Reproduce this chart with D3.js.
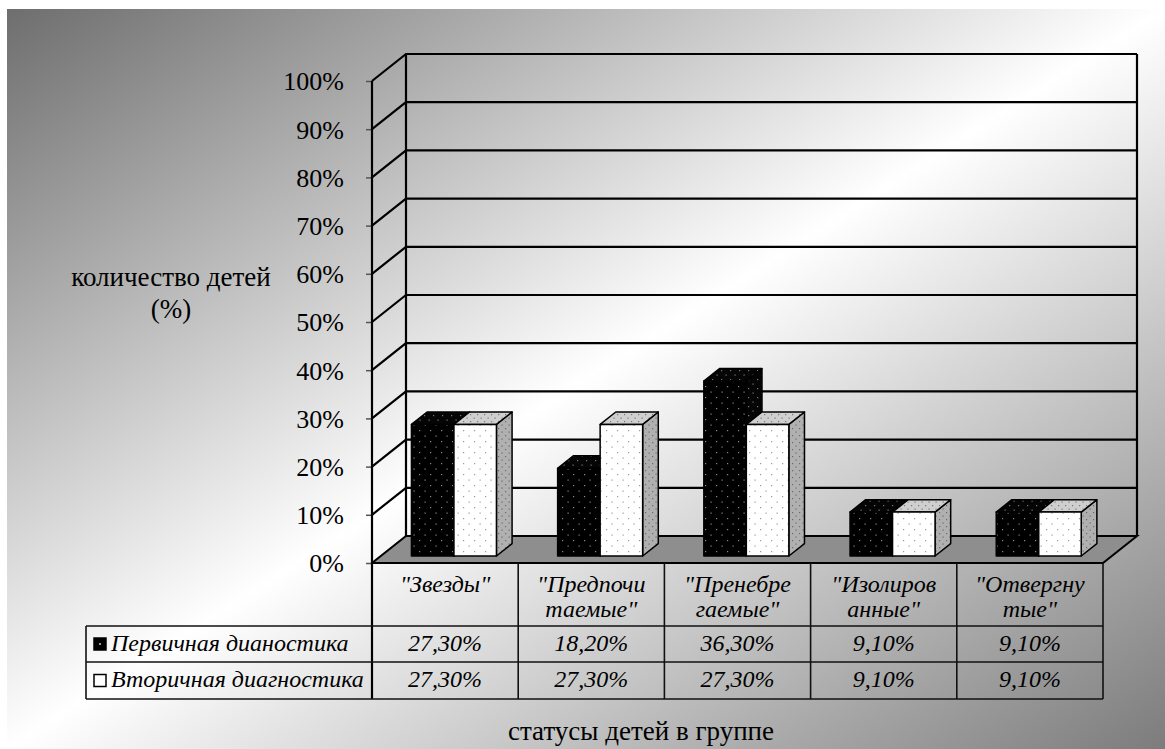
<!DOCTYPE html>
<html>
<head>
<meta charset="utf-8">
<script src="https://cdn.jsdelivr.net/npm/d3@7"></script>
<style>
  body { margin: 0; background: #fff; }
</style>
</head>
<body>
<svg id="chart"></svg>
<script>
// data
const categories = ['Звезды', 'Предпочитаемые', 'Пренебрегаемые', 'Изолированные', 'Отвергнутые'];
const categoryLines = [['"Звезды"'], ['"Предпочи', 'таемые"'], ['"Пренебре', 'гаемые"'], ['"Изолиров', 'анные"'], ['"Отвергну', 'тые"']];
const seriesNames = ['Первичная дианостика', 'Вторичная диагностика'];
const primaryValues = [27.3, 18.2, 36.3, 9.1, 9.1];
const secondaryValues = [27.3, 27.3, 27.3, 9.1, 9.1];
const yTicks = [0, 10, 20, 30, 40, 50, 60, 70, 80, 90, 100];
const yTitle = ['количество детей', '(%)'];
const xTitle = 'статусы детей в группе';

const W = 1165, H = 749;
const FONT = '"Liberation Serif", "Times New Roman", serif';
const svg = d3.select('#chart').attr('width', W).attr('height', H);

// plot geometry (front plane + depth offset)
const plotLeft = 372, plotRight = 1103, plotTop = 81, plotBottom = 563;
const depthX = 34, depthY = -27;
const barFront = 0.26, barBack = 0.72;
const barHalf = 42.5;

const x = d3.scaleBand().domain(categories).range([plotLeft, plotRight]).paddingInner(0).paddingOuter(0);
const y = d3.scaleLinear().domain([0, 100]).range([plotBottom, plotTop]);
const p = (px, v, d) => [px + depthX * d, y(v) + depthY * d];

const defs = svg.append('defs');
const bg = defs.append('linearGradient').attr('id', 'bg')
    .attr('x1', 0).attr('y1', 0).attr('x2', 1).attr('y2', 1);
bg.append('stop').attr('offset', 0).attr('stop-color', '#6e6e6e');
bg.append('stop').attr('offset', 0.5).attr('stop-color', '#ffffff');
bg.append('stop').attr('offset', 1).attr('stop-color', '#7c7c7c');

function dots(id, base, dot, step) {
    const pat = defs.append('pattern').attr('id', id)
        .attr('patternUnits', 'userSpaceOnUse').attr('width', step).attr('height', step);
    pat.append('rect').attr('width', step).attr('height', step).attr('fill', base);
    pat.append('rect').attr('x', 1).attr('y', 1).attr('width', 1.2).attr('height', 1.2).attr('fill', dot);
    pat.append('rect').attr('x', step / 2 + 1).attr('y', step / 2 + 1).attr('width', 1.2).attr('height', 1.2).attr('fill', dot);
}
dots('blackFront', '#000', '#8a8a8a', 11);
dots('blackTop', '#050505', '#7a7a7a', 9);
dots('whiteFront', '#fff', '#9a9a9a', 11);
dots('whiteTop', '#cfcfcf', '#777', 7);
dots('whiteSide', '#b0b0b0', '#6a6a6a', 7);

svg.append('rect').attr('x', 7).attr('y', 9).attr('width', W - 7).attr('height', H - 9).attr('fill', 'url(#bg)');

const line = d3.line();
const g = svg.append('g');

// floor
g.append('path')
    .attr('d', line([p(plotLeft, 0, 0), p(plotRight, 0, 0), p(plotRight, 0, 1), p(plotLeft, 0, 1)]) + 'Z')
    .attr('fill', '#8e8e8e').attr('stroke', '#000').attr('stroke-width', 2);

// gridlines: side wall diagonals and back wall horizontals
yTicks.filter(t => t > 0).forEach(t => {
    g.append('path').attr('d', line([p(plotLeft, t, 0), p(plotLeft, t, 1), p(plotRight, t, 1)]))
        .attr('fill', 'none').attr('stroke', '#000').attr('stroke-width', 2.2);
});
g.append('path').attr('d', line([p(plotLeft, 0, 1), p(plotLeft, 100, 1)]))
    .attr('stroke', '#000').attr('stroke-width', 2.2);
g.append('path').attr('d', line([p(plotRight, 0, 1), p(plotRight, 100, 1)]))
    .attr('stroke', '#000').attr('stroke-width', 2.2);

// y axis
const yAxis = d3.axisLeft(y).tickValues(yTicks).tickSize(6).tickSizeOuter(0).tickFormat(d => d + '%');
const yAxisG = svg.append('g').attr('transform', `translate(${plotLeft},0)`).call(yAxis)
    .attr('font-family', FONT).attr('font-size', 26);
yAxisG.select('.domain').remove();
yAxisG.selectAll('.tick line').attr('stroke', '#555').attr('stroke-width', 1.5);
yAxisG.selectAll('.tick text').attr('x', -28).attr('dy', '0.34em').attr('fill', '#000');
svg.append('line').attr('x1', plotLeft).attr('x2', plotLeft).attr('y1', plotTop).attr('y2', 699)
    .attr('stroke', '#000').attr('stroke-width', 2.2);

// 3D bars
function bar(cx0, cx1, v, front, topFill, side) {
    const bg2 = g.append('g').attr('stroke', '#000').attr('stroke-width', 1.5).attr('stroke-linejoin', 'round');
    bg2.append('path').attr('d', line([p(cx1, 0, barFront), p(cx1, 0, barBack), p(cx1, v, barBack), p(cx1, v, barFront)]) + 'Z')
        .attr('fill', `url(#${side})`);
    bg2.append('path').attr('d', line([p(cx0, v, barFront), p(cx1, v, barFront), p(cx1, v, barBack), p(cx0, v, barBack)]) + 'Z')
        .attr('fill', `url(#${topFill})`);
    bg2.append('path').attr('d', line([p(cx0, 0, barFront), p(cx1, 0, barFront), p(cx1, v, barFront), p(cx0, v, barFront)]) + 'Z')
        .attr('fill', `url(#${front})`);
}
categories.forEach((c, i) => {
    const cx = x(c) + x.bandwidth() / 2;
    bar(cx - barHalf, cx, primaryValues[i], 'blackFront', 'blackTop', 'blackTop');
    bar(cx, cx + barHalf, secondaryValues[i], 'whiteFront', 'whiteTop', 'whiteSide');
});

// data table
const rowY = [563, 626, 662, 699];
const legendLeft = 86;
const tbl = svg.append('g').attr('font-family', FONT).attr('font-style', 'italic').attr('font-size', 24);
const tLine = (x1, y1, x2, y2) => tbl.append('line').attr('x1', x1).attr('y1', y1).attr('x2', x2).attr('y2', y2)
    .attr('stroke', '#111').attr('stroke-width', 1.6);
[rowY[1], rowY[2], rowY[3]].forEach(ry => tLine(legendLeft, ry, plotRight, ry));
tLine(legendLeft, rowY[1], legendLeft, rowY[3]);
categories.forEach(c => tLine(x(c) + x.bandwidth(), rowY[0], x(c) + x.bandwidth(), rowY[3]));

categories.forEach((c, i) => {
    const cx = x(c) + x.bandwidth() / 2;
    categoryLines[i].forEach((ln, j) => {
        tbl.append('text').attr('x', cx).attr('y', 584 + j * 25).attr('dy', '0.35em')
            .attr('text-anchor', 'middle').text(ln);
    });
    [primaryValues, secondaryValues].forEach((vals, r) => {
        tbl.append('text').attr('x', cx).attr('y', (rowY[r + 1] + rowY[r + 2]) / 2 - 1.5).attr('dy', '0.35em')
            .attr('text-anchor', 'middle')
            .text(vals[i].toFixed(2).replace('.', ',') + '%');
    });
});

// legend keys inside the table
seriesNames.forEach((name, r) => {
    const cy = (rowY[r + 1] + rowY[r + 2]) / 2;
    tbl.append('rect').attr('x', 94).attr('y', cy - 6).attr('width', 12).attr('height', 12)
        .attr('fill', r === 0 ? '#000' : '#fff').attr('stroke', '#000').attr('stroke-width', 1.5);
    if (r === 0) tbl.append('rect').attr('x', 99).attr('y', cy - 1).attr('width', 2).attr('height', 2).attr('fill', '#999');
    tbl.append('text').attr('x', 111).attr('y', cy - 1.5).attr('dy', '0.35em').text(name);
});

// axis titles
const titles = svg.append('g').attr('font-family', FONT).attr('font-size', 27);
yTitle.forEach((t, i) => {
    titles.append('text').attr('x', 171).attr('y', 277 + i * 32).attr('dy', '0.35em')
        .attr('text-anchor', 'middle').text(t);
});
titles.append('text').attr('x', 508).attr('y', 731).attr('dy', '0.35em')
    .text(xTitle);
</script>
</body>
</html>
